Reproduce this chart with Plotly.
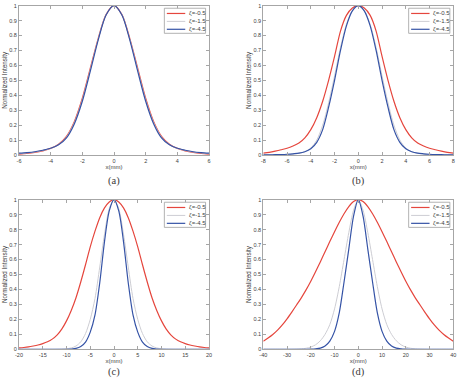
import plotly.graph_objects as go

# ---------------- data ----------------
series_names = ["ζ=-0.5", "ζ=-1.5", "ζ=-4.5"]
series_colors = ["#e5463d", "#cdcdd3", "#3553a6"]
series_widths = [1.2, 1.0, 1.2]

# panel (a)
x_a = [-6, -5.5, -5, -4.5, -4, -3.5, -3, -2.5, -2, -1.5, -1, -0.5, 0,
       0.5, 1, 1.5, 2, 2.5, 3, 3.5, 4, 4.5, 5, 5.5, 6]
red_a = [0.006, 0.01, 0.017, 0.028, 0.044, 0.072, 0.125, 0.225, 0.38, 0.58, 0.78, 0.94, 1.0,
         0.94, 0.78, 0.58, 0.38, 0.225, 0.125, 0.072, 0.044, 0.028, 0.017, 0.01, 0.006]
gray_a = [0.009, 0.014, 0.02, 0.03, 0.044, 0.07, 0.12, 0.218, 0.37, 0.57, 0.775, 0.94, 1.0,
          0.94, 0.775, 0.57, 0.37, 0.218, 0.12, 0.07, 0.044, 0.03, 0.02, 0.014, 0.009]
blue_a = [0.012, 0.016, 0.022, 0.032, 0.045, 0.068, 0.115, 0.21, 0.36, 0.56, 0.77, 0.938, 1.0,
          0.938, 0.77, 0.56, 0.36, 0.21, 0.115, 0.068, 0.045, 0.032, 0.022, 0.016, 0.012]

# panel (b)
x_b = [-8, -7.5, -7, -6.5, -6, -5.5, -5, -4.5, -4, -3.5, -3, -2.5, -2, -1.5, -1, -0.5, 0,
       0.5, 1, 1.5, 2, 2.5, 3, 3.5, 4, 4.5, 5, 5.5, 6, 6.5, 7, 7.5, 8]
red_b = [0.012, 0.018, 0.026, 0.035, 0.045, 0.06, 0.08, 0.115, 0.17, 0.25, 0.36, 0.5, 0.66, 0.83, 0.935, 0.985, 1.0,
         0.985, 0.935, 0.83, 0.66, 0.5, 0.36, 0.25, 0.17, 0.115, 0.08, 0.06, 0.045, 0.035, 0.026, 0.018, 0.012]
gray_b = [0.0, 0.0005, 0.001, 0.002, 0.003, 0.006, 0.011, 0.022, 0.047, 0.1, 0.2, 0.35, 0.53, 0.72, 0.875, 0.967, 1.0,
          0.967, 0.875, 0.72, 0.53, 0.35, 0.2, 0.1, 0.047, 0.022, 0.011, 0.006, 0.003, 0.002, 0.001, 0.0005, 0.0]
blue_b = [0.001, 0.0015, 0.002, 0.003, 0.005, 0.008, 0.012, 0.022, 0.042, 0.085, 0.17, 0.32, 0.5, 0.7, 0.865, 0.965, 1.0,
          0.965, 0.865, 0.7, 0.5, 0.32, 0.17, 0.085, 0.042, 0.022, 0.012, 0.008, 0.005, 0.003, 0.002, 0.0015, 0.001]

# panel (c)
x_c = list(range(-20, 21))
red_c = [0.009, 0.012, 0.016, 0.022, 0.029, 0.038, 0.05, 0.068, 0.095, 0.135, 0.19, 0.26, 0.345, 0.45, 0.565,
         0.685, 0.79, 0.88, 0.945, 0.985, 1.0,
         0.985, 0.945, 0.88, 0.79, 0.685, 0.565, 0.45, 0.345, 0.26, 0.19, 0.135, 0.095, 0.068, 0.05, 0.038,
         0.029, 0.022, 0.016, 0.012, 0.009]
gray_c = [0, 0, 0, 0, 0, 0, 0, 0, 0.0005, 0.0015, 0.004, 0.009, 0.022, 0.05, 0.105, 0.2, 0.34, 0.55, 0.77, 0.94, 1.0,
          0.94, 0.77, 0.55, 0.34, 0.2, 0.105, 0.05, 0.022, 0.009, 0.004, 0.0015, 0.0005, 0, 0, 0, 0, 0, 0, 0, 0]
blue_c = [0, 0, 0, 0, 0, 0, 0, 0, 0, 0, 0.0005, 0.002, 0.006, 0.018, 0.048, 0.115, 0.23, 0.445, 0.72, 0.925, 1.0,
          0.925, 0.72, 0.445, 0.23, 0.115, 0.048, 0.018, 0.006, 0.002, 0.0005, 0, 0, 0, 0, 0, 0, 0, 0, 0, 0]

# panel (d)
x_d = list(range(-40, 41, 2))
red_d = [0.054, 0.075, 0.099, 0.128, 0.163, 0.204, 0.249, 0.296, 0.344, 0.397, 0.455, 0.518, 0.584, 0.652, 0.72,
         0.786, 0.849, 0.906, 0.954, 0.988, 1.0,
         0.988, 0.954, 0.906, 0.849, 0.786, 0.72, 0.652, 0.584, 0.518, 0.455, 0.397, 0.344, 0.296, 0.249, 0.204,
         0.163, 0.128, 0.099, 0.075, 0.054]
gray_d = [0, 0, 0, 0, 0, 0, 0.0005, 0.0015, 0.003, 0.007, 0.015, 0.03, 0.057, 0.1, 0.165, 0.27, 0.42, 0.6, 0.78, 0.93, 1.0,
          0.93, 0.78, 0.6, 0.42, 0.27, 0.165, 0.1, 0.057, 0.03, 0.015, 0.007, 0.003, 0.0015, 0.0005, 0, 0, 0, 0, 0, 0]
blue_d = [0, 0, 0, 0, 0, 0, 0, 0, 0, 0, 0.001, 0.003, 0.008, 0.022, 0.055, 0.12, 0.245, 0.45, 0.67, 0.89, 1.0,
          0.89, 0.67, 0.45, 0.245, 0.12, 0.055, 0.022, 0.008, 0.003, 0.001, 0, 0, 0, 0, 0, 0, 0, 0, 0, 0]

x_ticks_a = [-6, -4, -2, 0, 2, 4, 6]
x_ticks_b = [-8, -6, -4, -2, 0, 2, 4, 6, 8]
x_ticks_c = [-20, -15, -10, -5, 0, 5, 10, 15, 20]
x_ticks_d = [-40, -30, -20, -10, 0, 10, 20, 30, 40]
y_ticks = [0, 0.1, 0.2, 0.3, 0.4, 0.5, 0.6, 0.7, 0.8, 0.9, 1]
y_tick_text = ["0", "0.1", "0.2", "0.3", "0.4", "0.5", "0.6", "0.7", "0.8", "0.9", "1"]
captions = ["(a)", "(b)", "(c)", "(d)"]
x_title = "x(mm)"
y_title = "Normalized Intensity"

panels = [
    (x_a, [red_a, gray_a, blue_a], x_ticks_a),
    (x_b, [red_b, gray_b, blue_b], x_ticks_b),
    (x_c, [red_c, gray_c, blue_c], x_ticks_c),
    (x_d, [red_d, gray_d, blue_d], x_ticks_d),
]

# ---------------- layout geometry ----------------
W, H = 461, 380
x_doms = [[19 / W, 209 / W], [263.3 / W, 453.3 / W]]
y_doms = [[1 - 155 / H, 1 - 5.7 / H], [1 - 349.3 / H, 1 - 199.7 / H]]
cap_y = [1 - 181 / H, 1 - 372 / H]

fig = go.Figure()
layout = dict(width=W, height=H, margin=dict(l=0, r=0, t=0, b=0), autosize=False,
              paper_bgcolor="white", plot_bgcolor="white", showlegend=False)
annotations = []
shapes = []

FONT = "Liberation Sans, Arial, sans-serif"
axcol = "#a6a6a6"

for i, (xs, ys_list, xt) in enumerate(panels):
    r, c = divmod(i, 2)
    ax = "" if i == 0 else str(i + 1)
    xname, yname = "x" + ax, "y" + ax
    for k, ys in enumerate(ys_list):
        fig.add_trace(go.Scatter(x=xs, y=ys, mode="lines", name=series_names[k],
                                 line=dict(color=series_colors[k], width=series_widths[k],
                                           shape="spline", smoothing=0.8),
                                 xaxis=xname, yaxis=yname, showlegend=False))
    common = dict(showline=True, linecolor=axcol, linewidth=1, mirror="ticks",
                  ticks="inside", ticklen=3, tickcolor=axcol, showgrid=False, zeroline=False,
                  tickfont=dict(family=FONT, size=5.5, color="#404040"), automargin=False)
    layout["xaxis" + ax] = dict(domain=x_doms[c], anchor=yname, range=[xt[0], xt[-1]],
                                tickvals=xt, ticktext=[str(v) for v in xt],
                                title=dict(text=x_title, font=dict(family=FONT, size=6, color="#404040"),
                                           standoff=1), **common)
    layout["yaxis" + ax] = dict(domain=y_doms[r], anchor=xname, range=[0, 1],
                                tickvals=y_ticks, ticktext=y_tick_text,
                                title=dict(text=y_title, font=dict(family=FONT, size=6.3, color="#404040"),
                                           standoff=1), **common)
    annotations.append(dict(text=captions[i], xref="paper", yref="paper",
                            x=sum(x_doms[c]) / 2, y=cap_y[r], showarrow=False,
                            xanchor="center", yanchor="middle",
                            font=dict(family="Liberation Serif, Times New Roman, serif", size=10.5, color="#3a3a3a")))
    # legend box (drawn inside the axes domain)
    xd, yd = xname + " domain", yname + " domain"
    shapes.append(dict(type="rect", xref=xd, yref=yd, x0=0.765, x1=0.982, y0=0.815, y1=0.983,
                       line=dict(color="#a0a0a0", width=0.8), fillcolor="white", layer="above"))
    rows = [0.948, 0.895, 0.842]
    for k in range(3):
        shapes.append(dict(type="line", xref=xd, yref=yd, x0=0.778, x1=0.875, y0=rows[k], y1=rows[k],
                           line=dict(color=series_colors[k], width=series_widths[k]), layer="above"))
        annotations.append(dict(text=series_names[k], xref=xd, yref=yd, x=0.882, y=rows[k],
                                xanchor="left", yanchor="middle", showarrow=False,
                                font=dict(family=FONT, size=6, color="#404040")))

layout["annotations"] = annotations
layout["shapes"] = shapes
fig.update_layout(**layout)
fig.write_html("out.html")
